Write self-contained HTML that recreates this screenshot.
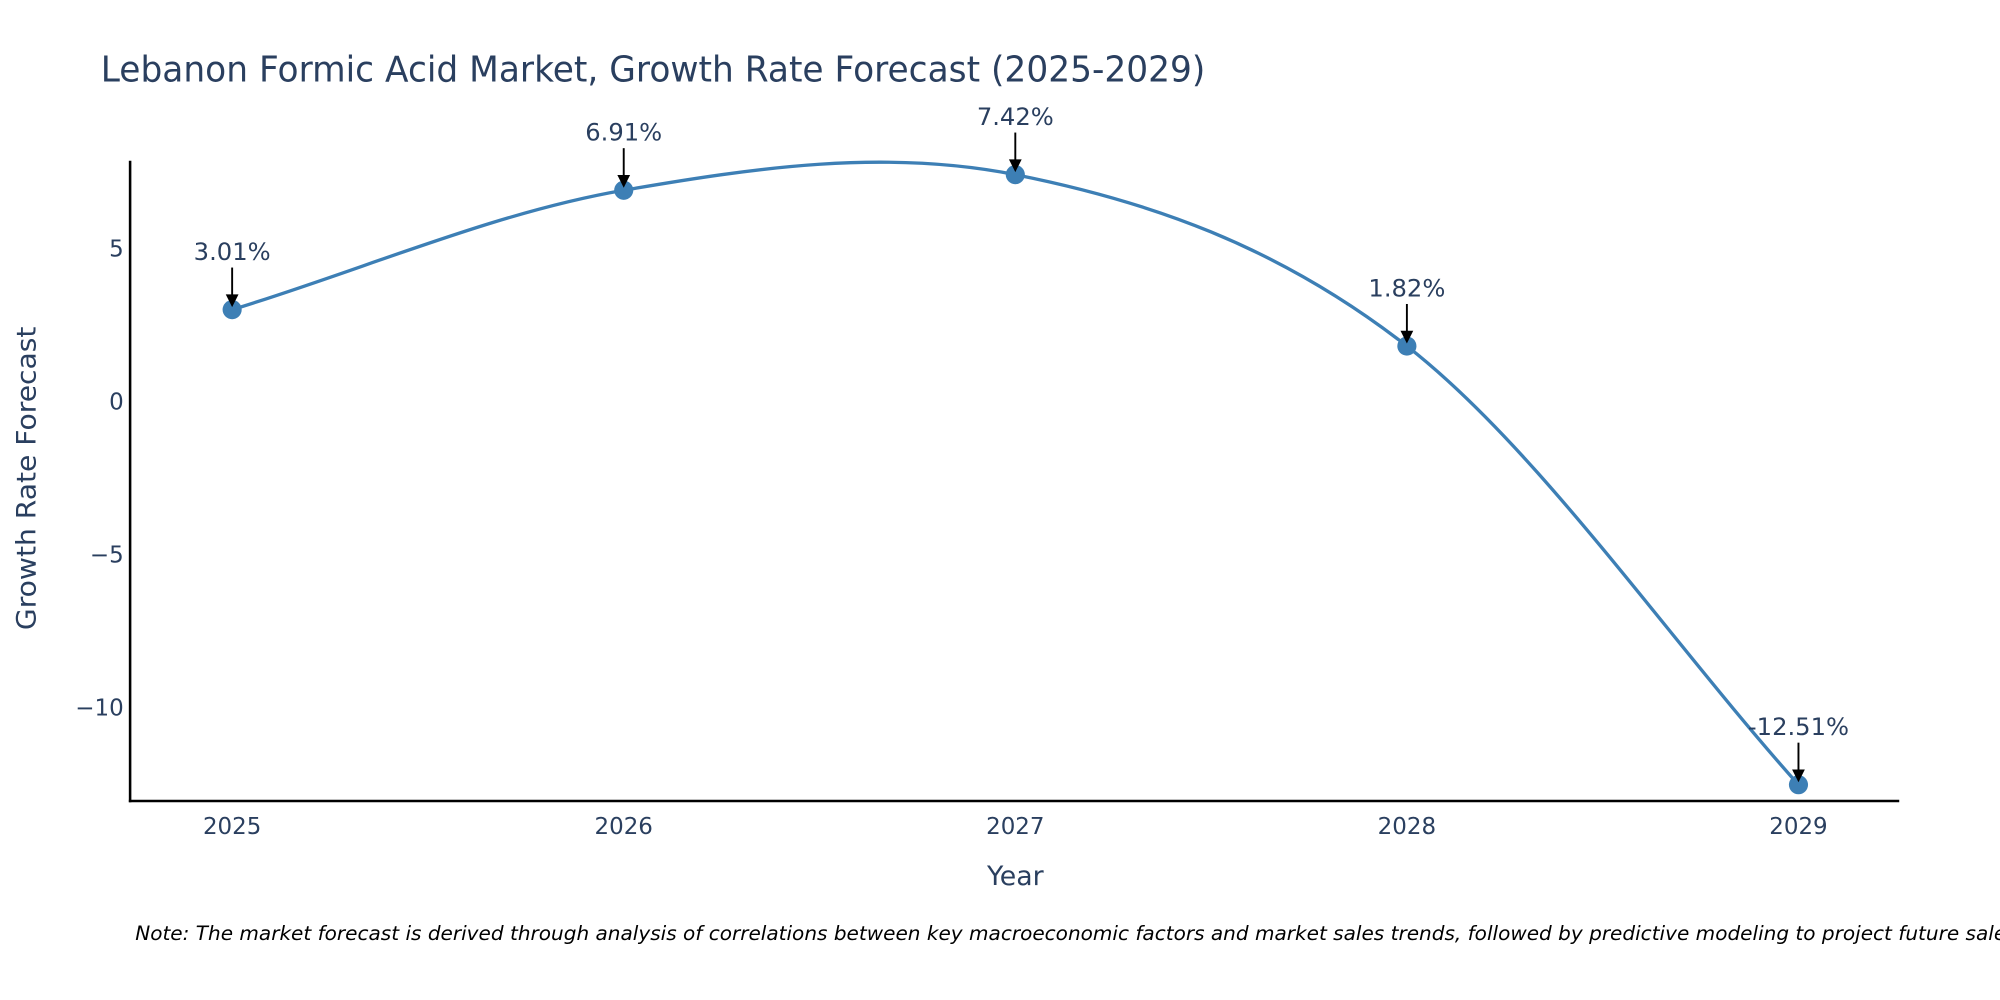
<!DOCTYPE html>
<html><head><meta charset="utf-8">
<style>
html,body{margin:0;padding:0;background:#fff;}
svg{display:block;}
text{font-family:"DejaVu Sans","Liberation Sans",sans-serif;fill:#2a3f5f;}
</style></head>
<body>
<svg id="chart" width="2000" height="1000" viewBox="0 0 1568 784" xmlns="http://www.w3.org/2000/svg">
  <text x="79" y="64" font-size="28" textLength="866" lengthAdjust="spacingAndGlyphs">Lebanon Formic Acid Market, Growth Rate Forecast (2025-2029)</text>
  <g id="grid"></g>
  <line x1="102" y1="126" x2="102" y2="629" stroke="#000" stroke-width="2"/>
  <line x1="101" y1="628" x2="1489" y2="628" stroke="#000" stroke-width="2"/>
  <text x="796" y="694" font-size="21" text-anchor="middle">Year</text>
  <text transform="translate(28,375) rotate(-90)" font-size="21" text-anchor="middle" textLength="238" lengthAdjust="spacingAndGlyphs">Growth Rate Forecast</text>
  <text x="106" y="737" font-size="15.5" font-style="italic" style="fill:#000" textLength="1480" lengthAdjust="spacingAndGlyphs">Note: The market forecast is derived through analysis of correlations between key macroeconomic factors and market sales trends, followed by predictive modeling to project future sales.</text>
  <g id="xticks"></g><g id="yticks"></g><g id="series"></g><g id="annots"></g>
</svg>
<script>
const years = [2025, 2026, 2027, 2028, 2029];
const growth = [3.01, 6.91, 7.42, 1.82, -12.51];
const labels = ["3.01%", "6.91%", "7.42%", "1.82%", "-12.51%"];
const yTickValues = [5, 0, -5, -10];
const yTickLabels = ["5", "0", "\u22125", "\u221210"];

const NS = "http://www.w3.org/2000/svg";
function xs(yr){ return 182 + (yr - 2025) * 307; }
function ys(v){ return 315 - 24 * v; }
function mk(tag, attrs, parent){ const e=document.createElementNS(NS,tag); for(const k in attrs) e.setAttribute(k,attrs[k]); parent.appendChild(e); return e; }

const xg=document.getElementById('xticks'), yg=document.getElementById('yticks');
years.forEach(function(yr){
  const t=mk('text',{x:xs(yr),y:654,'font-size':18,'text-anchor':'middle'},xg);
  
  
  t.textContent=String(yr);
});
yTickValues.forEach(function(v,i){
  const t=mk('text',{x:97,y:ys(v)+6,'font-size':18,'text-anchor':'end'},yg);
  
  
  t.textContent=yTickLabels[i];
});

const pts=years.map(function(yr,i){return [xs(yr),ys(growth[i])];});
const n=pts.length;
function getP(i){
  if(i<0) return [2*pts[0][0]-pts[1][0], 2*pts[0][1]-pts[1][1]];
  if(i>=n) return [2*pts[n-1][0]-pts[n-2][0], 2*pts[n-1][1]-pts[n-2][1]];
  return pts[i];
}
let d='M'+pts[0][0]+','+pts[0][1];
for(let i=0;i<n-1;i++){
  const p0=getP(i-1), p1=pts[i], p2=pts[i+1], p3=getP(i+2);
  const c1=[p1[0]+(p2[0]-p0[0])/6, p1[1]+(p2[1]-p0[1])/6];
  const c2=[p2[0]-(p3[0]-p1[0])/6, p2[1]-(p3[1]-p1[1])/6];
  d+=' C'+c1[0]+','+c1[1]+' '+c2[0]+','+c2[1]+' '+p2[0]+','+p2[1];
}
const sg=document.getElementById('series');
const line=mk('path',{d:d,fill:'none',stroke:'#3d7fb5','stroke-width':2.6},sg);


pts.forEach(function(p){
  const c=mk('circle',{cx:p[0],cy:p[1],r:7.5,fill:'#3d7fb5'},sg);
  
  
});
const ag=document.getElementById('annots');
pts.forEach(function(p,i){
  const l=mk('line',{x1:p[0],y1:p[1]-33,x2:p[0],y2:p[1]-10,stroke:'#000','stroke-width':1.5},ag);
  
  
  const h=mk('polygon',{points:(p[0]-5)+','+(p[1]-12)+' '+(p[0]+5)+','+(p[1]-12)+' '+p[0]+','+(p[1]-2),fill:'#000'},ag);
  
  
  const t=mk('text',{x:p[0],y:p[1]-39,'font-size':19,'text-anchor':'middle'},ag);
  
  
  t.textContent=labels[i];
});
</script>
</body></html>
